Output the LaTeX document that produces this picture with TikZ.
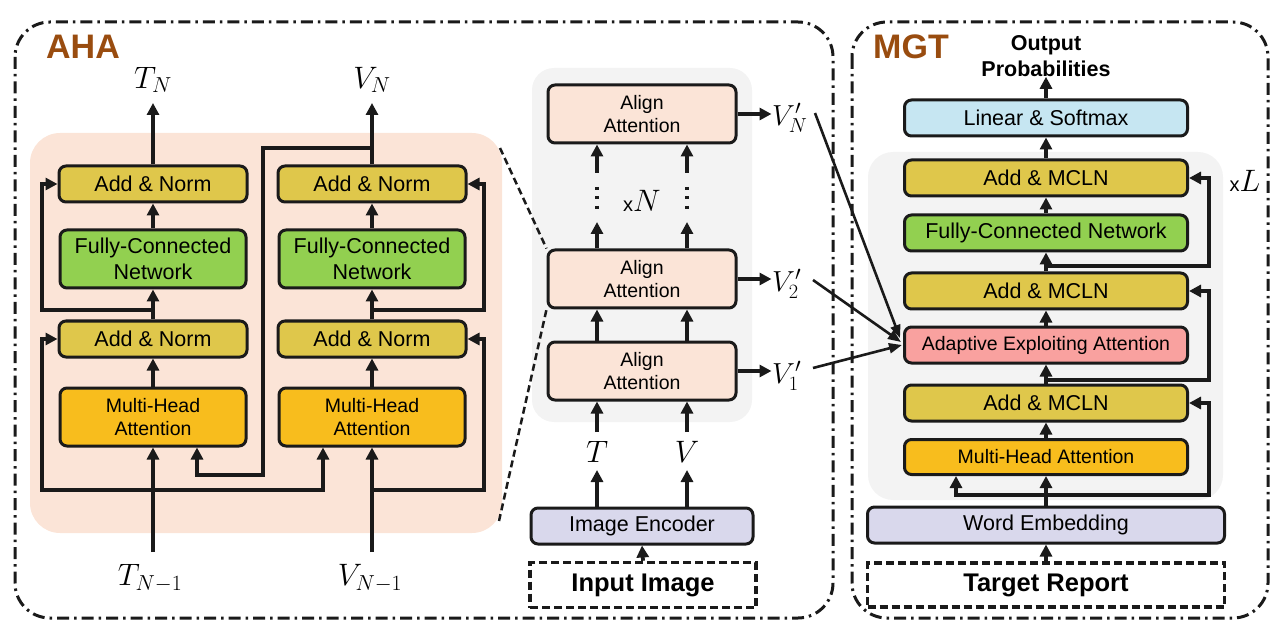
\RequirePackage{fix-cm}
\documentclass[tikz,border=0pt]{standalone}
\usepackage{fontspec}
\setmainfont{Liberation Sans}
\usetikzlibrary{arrows.meta,calc}
\definecolor{bord}{HTML}{1A1A1A}
\definecolor{salmon}{HTML}{FBE4D7}
\definecolor{grayb}{HTML}{F3F3F3}
\definecolor{addc}{HTML}{DFC74B}
\definecolor{fcnc}{HTML}{92D050}
\definecolor{mhac}{HTML}{F8BD1D}
\definecolor{alc}{HTML}{FBE4D7}
\definecolor{encc}{HTML}{D9D8EC}
\definecolor{linc}{HTML}{C6E6F2}
\definecolor{aeac}{HTML}{F9A19F}
\definecolor{brn}{HTML}{994C0F}
\newcommand{\fsz}[2]{\fontsize{#1}{#2}\selectfont}
\tikzset{
  bx/.style={draw=bord, line width=3pt, rounded corners=7pt, align=center, inner sep=0pt, font=\fsz{21.5}{26}},
  sm/.style={font=\fsz{19.5}{23.5}},
  arr/.style={line width=3.8pt, draw=bord, -{Triangle[length=12pt,width=12pt]}},
  thinarr/.style={line width=2.6pt, draw=bord, -{Triangle[length=13pt,width=10pt]}},
  outerbox/.style={draw=bord, line width=3pt, rounded corners=35pt, dash pattern=on 12pt off 5pt on 2.5pt off 5pt},
  dbox/.style={draw=bord, line width=3.5pt, dash pattern=on 8pt off 4pt, inner sep=0pt, font=\fsz{25.5}{28}\bfseries},
  zoomline/.style={draw=bord, line width=2.5pt, dash pattern=on 7pt off 4pt},
  mlab/.style={inner sep=1pt, font=\fsz{31}{34}},
  plab/.style={inner sep=1pt, font=\fsz{29}{32}},
  ttl/.style={text=brn, font=\fsz{34}{38}\bfseries, inner sep=0pt}
}
\begin{document}
\begin{tikzpicture}[x=1pt,y=-1pt]
\useasboundingbox (0,0) rectangle (1286,631);
% backgrounds
\fill[salmon, rounded corners=30pt] (30,133) rectangle (502,533);
\fill[grayb, rounded corners=22pt] (532,68) rectangle (752,422);
\fill[grayb, rounded corners=25pt] (868,152) rectangle (1223,500);
% outer frames
\draw[outerbox] (15,22) rectangle (833,618);
\draw[outerbox] (852,22) rectangle (1268,618);
\node[ttl] (aha) at (83,47) {AHA};
\node[ttl] (mgt) at (911,47) {MGT};

% ---------------- AHA ----------------
\node[bx, fill=addc, minimum width=188pt, minimum height=36pt] (an1L) at (153,184) {Add \& Norm};
\node[bx, fill=fcnc, minimum width=186pt, minimum height=58pt] (fcnL) at (153,259) {Fully-Connected\\Network};
\node[bx, fill=addc, minimum width=188pt, minimum height=36pt] (an2L) at (153,339) {Add \& Norm};
\node[bx, sm, fill=mhac, minimum width=186pt, minimum height=58pt] (mhaL) at (153,417) {Multi-Head\\Attention};
\node[bx, fill=addc, minimum width=188pt, minimum height=36pt] (an1R) at (372,184) {Add \& Norm};
\node[bx, fill=fcnc, minimum width=186pt, minimum height=58pt] (fcnR) at (372,259) {Fully-Connected\\Network};
\node[bx, fill=addc, minimum width=188pt, minimum height=36pt] (an2R) at (372,339) {Add \& Norm};
\node[bx, sm, fill=mhac, minimum width=186pt, minimum height=58pt] (mhaR) at (372,417) {Multi-Head\\Attention};
\node[mlab] (TN) at (153,80) {$T_N$};
\node[mlab] (VN) at (372,80) {$V_N$};
\node[mlab] (TN1) at (150,578) {$T_{N-1}$};
\node[mlab] (VN1) at (370,578) {$V_{N-1}$};

\coordinate (xl) at (42,0);
\coordinate (xr) at (484,0);
\coordinate (xq) at (323,0);
\coordinate (xp) at (197,0);
\coordinate (xv) at (263,0);
\coordinate (rL1) at (153,310);
\coordinate (rR1) at (372,310);
\coordinate (bL) at (153,490);
\coordinate (bR) at (372,490);
\coordinate (vb) at (372,148);
\coordinate (sL) at (153,552);
\coordinate (sR) at (372,552);
\coordinate (tL) at (153,103);
\coordinate (tR) at (372,103);

\draw[arr] (sL) -- (mhaL.south);
\draw[arr] (mhaL.north) -- (an2L.south);
\draw[arr] (an2L.north) -- (fcnL.south);
\draw[arr] (fcnL.north) -- (an1L.south);
\draw[arr] (an1L.north) -- (tL);
\draw[arr] (sR) -- (mhaR.south);
\draw[arr] (mhaR.north) -- (an2R.south);
\draw[arr] (an2R.north) -- (fcnR.south);
\draw[arr] (fcnR.north) -- (an1R.south);
\draw[arr] (an1R.north) -- (tR);

\draw[arr] (rL1) -| (xl |- an1L.west) -- (an1L.west);
\draw[arr] (bL) -| (xl |- an2L.west) -- (an2L.west);
\draw[arr] (bL) -| (xq |- mhaR.south);
\draw[arr] (rR1) -| (xr |- an1R.east) -- (an1R.east);
\draw[arr] (bR) -| (xr |- an2R.east) -- (an2R.east);
\draw[arr] (vb) -| ($(xv)+(0,475)$) -| (xp |- mhaL.south);

% ---------------- Align column ----------------
\node[bx, sm, fill=alc, minimum width=188pt, minimum height=58pt] (al3) at (642,114) {Align\\Attention};
\node[bx, sm, fill=alc, minimum width=188pt, minimum height=58pt] (al2) at (642,279) {Align\\Attention};
\node[bx, sm, fill=alc, minimum width=188pt, minimum height=58pt] (al1) at (642,371) {Align\\Attention};
\node[bx, fill=encc, minimum width=222pt, minimum height=36pt] (enc) at (642,526) {Image Encoder};
\node[dbox, minimum width=226pt, minimum height=45pt] (inp) at (643,585) {Input Image};
\node[mlab, inner sep=0pt] (T) at (597,452) {$T$};
\node[mlab, inner sep=0pt] (V) at (687,452) {$V$};
\node[inner sep=0pt] (xN) at (642,201) {{\fsz{20}{22}x}{\fsz{31}{34}$N$}};
\node[plab, anchor=west] (VpN) at (771,118) {$V'_N$};
\node[plab, anchor=west] (Vp2) at (771,284) {$V'_2$};
\node[plab, anchor=west] (Vp1) at (771,376) {$V'_1$};

\coordinate (ca) at (597,0);
\coordinate (cb) at (687,0);
\coordinate (da1) at (597,222);
\coordinate (db1) at (687,222);
\coordinate (da2) at (597,173);
\coordinate (db2) at (687,173);
\coordinate (ta) at (597,470);
\coordinate (tb) at (687,470);
\coordinate (ua) at (597,432);
\coordinate (ub) at (687,432);

\draw[arr] (inp.north) -- (enc.south);
\draw[arr] (enc.north -| ca) -- (ta);
\draw[arr] (enc.north -| cb) -- (tb);
\draw[arr] (ua) -- (al1.south -| ca);
\draw[arr] (ub) -- (al1.south -| cb);
\draw[arr] (al1.north -| ca) -- (al2.south -| ca);
\draw[arr] (al1.north -| cb) -- (al2.south -| cb);
\draw[arr] (al2.north -| ca) -- (da1);
\draw[arr] (al2.north -| cb) -- (db1);
\draw[line width=4pt, draw=bord, dash pattern=on 3pt off 6.5pt] (597,187) -- (597,211);
\draw[line width=4pt, draw=bord, dash pattern=on 3pt off 6.5pt] (687,187) -- (687,211);
\draw[arr] (da2) -- (al3.south -| ca);
\draw[arr] (db2) -- (al3.south -| cb);
\draw[arr] (al3.east) -- ($(al3.east)+(34,0)$);
\draw[arr] (al2.east) -- ($(al2.east)+(34,0)$);
\draw[arr] (al1.east) -- ($(al1.east)+(34,0)$);

% zoom lines
\draw[zoomline] (500,148) -- (al2.north west);
\draw[zoomline] (499,521) -- (al2.south west);

% ---------------- MGT ----------------
\node[inner sep=0pt, align=center, font=\fsz{21.5}{26}\bfseries] (out) at (1046,56) {Output\\Probabilities};
\node[bx, fill=linc, minimum width=283pt, minimum height=36pt] (lin) at (1046,118) {Linear \& Softmax};
\node[bx, fill=addc, minimum width=283pt, minimum height=36pt] (m1) at (1046,178) {Add \& MCLN};
\node[bx, fill=fcnc, minimum width=283pt, minimum height=36pt] (fcn) at (1046,233) {Fully-Connected Network};
\node[bx, fill=addc, minimum width=283pt, minimum height=36pt] (m2) at (1046,291) {Add \& MCLN};
\node[bx, sm, fill=aeac, minimum width=283pt, minimum height=36pt] (aea) at (1046,345) {Adaptive Exploiting Attention};
\node[bx, fill=addc, minimum width=283pt, minimum height=36pt] (m3) at (1046,403) {Add \& MCLN};
\node[bx, sm, fill=mhac, minimum width=283pt, minimum height=35pt] (mha) at (1046,457) {Multi-Head Attention};
\node[bx, fill=encc, minimum width=357pt, minimum height=36pt] (we) at (1046,525) {Word Embedding};
\node[dbox, minimum width=357pt, minimum height=44pt] (tr) at (1046,585) {Target Report};
\node[inner sep=0pt] (xL) at (1245,181) {{\fsz{20}{22}x}{\fsz{31}{34}$L$}};

\coordinate (xm) at (1209,0);
\coordinate (xh) at (956,0);
\coordinate (g1) at (1046,266);
\coordinate (g2) at (1046,380);
\coordinate (g3) at (1046,495);

\draw[arr] (tr.north) -- (we.south);
\draw[arr] (we.north) -- (mha.south);
\draw[arr] (mha.north) -- (m3.south);
\draw[arr] (m3.north) -- (aea.south);
\draw[arr] (aea.north) -- (m2.south);
\draw[arr] (m2.north) -- (fcn.south);
\draw[arr] (fcn.north) -- (m1.south);
\draw[arr] (m1.north) -- (lin.south);
\draw[arr] (lin.north) -- (out.south);
\draw[arr] (g1) -| (xm |- m1.east) -- (m1.east);
\draw[arr] (g2) -| (xm |- m2.east) -- (m2.east);
\draw[arr] (g3) -| (xm |- m3.east) -- (m3.east);
\draw[arr] (g3) -| (xh |- mha.south);

% V' into AEA
\coordinate (sN) at (815,113);
\coordinate (s2) at (813,280);
\coordinate (s1) at (813,368);
\draw[thinarr] (sN) -- ($(aea.west)+(-3,-7)$);
\draw[thinarr] (s2) -- ($(aea.west)+(-2,-3)$);
\draw[thinarr] (s1) -- ($(aea.west)+(-1,0)$);
\end{tikzpicture}
\end{document}
